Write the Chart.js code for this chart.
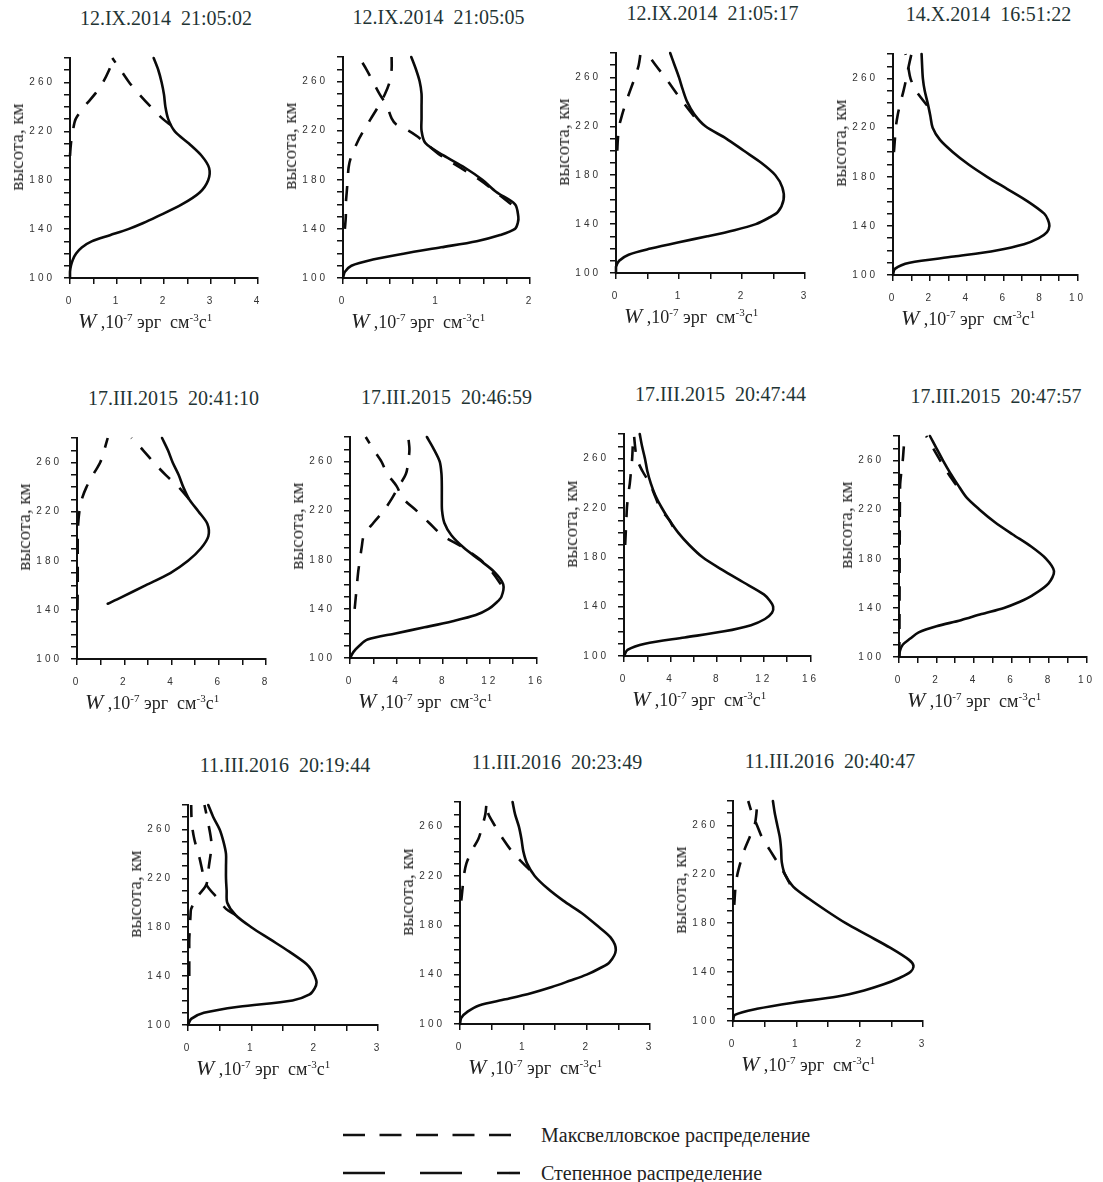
<!DOCTYPE html>
<html lang="ru">
<head>
<meta charset="utf-8">
<title>Профили W</title>
<script src="https://cdn.jsdelivr.net/npm/chart.js@4.4.1/dist/chart.umd.min.js"></script>
<style>
  html, body { margin: 0; padding: 0; background: #fff; }
  #page { position: relative; width: 1103px; height: 1182px; overflow: hidden;
          font-family: "Liberation Serif", "DejaVu Serif", serif; }
  #page canvas { position: absolute; }
  .ttl { position: absolute; font-size: 20px; white-space: pre; color: #1f3434;
         transform: translate(-50%, -50%); }
  .ytl { position: absolute; font-size: 19px; white-space: nowrap; color: #2a2a2a;
         transform: translate(-50%, -50%) rotate(-90deg); }
  .xtl { position: absolute; font-size: 18px; white-space: pre; color: #222;
         transform: translateY(-50%); }
  .xtl i { font-size: 22px; }
  .xtl sup { font-size: 11px; vertical-align: 0.6em; line-height: 0; }
  .legtxt { position: absolute; left: 541px; font-size: 20px; color: #222;
            white-space: nowrap; transform: translateY(-50%); }
</style>
</head>
<body>
<div id="page">
  <svg style="position:absolute;left:340px;top:1115px" width="180" height="70">
    <line x1="3" y1="20" x2="172" y2="20" stroke="#111" stroke-width="2.6" stroke-dasharray="22 14.5"/>
    <line x1="3" y1="58" x2="183" y2="58" stroke="#111" stroke-width="2.6" stroke-dasharray="42 35"/>
  </svg>
  <div class="legtxt" style="top:1135px">Максвелловское распределение</div>
  <div class="legtxt" style="top:1173px">Степенное распределение</div>
</div>
<script>
// panel captions
const TITLES = ['12.IX.2014  21:05:02', '12.IX.2014  21:05:05', '12.IX.2014  21:05:17', '14.X.2014  16:51:22',
  '17.III.2015  20:41:10', '17.III.2015  20:46:59', '17.III.2015  20:47:44', '17.III.2015  20:47:57',
  '11.III.2016  20:19:44', '11.III.2016  20:23:49', '11.III.2016  20:40:47'];

// x axis: max, minor tick step, labelled step
const X_MAX = [4, 2, 3, 10, 8, 16, 16, 10, 3, 3, 3];
const X_MINOR = [0.5, 0.25, 0.5, 1, 1, 2, 2, 1, 0.5, 0.5, 0.5];
const X_MAJOR = [1, 1, 1, 2, 2, 4, 4, 2, 1, 1, 1];

// y axis (height, km)
const Y_MIN = 100, Y_MAX = 280, Y_MINOR = 10, Y_MAJOR = 40;

// heights for the power-law curves
const HEIGHTS = [100, 105, 110, 115, 120, 125, 130, 135, 140, 145, 150, 160, 170, 180, 190, 200, 210, 220, 230, 240, 250, 260, 270, 280];

// W for power-law distribution (solid), one row per panel
const POWER_W = [
  [0, 0, 0.02, 0.06, 0.13, 0.25, 0.46, 0.85, 1.24, 1.56, 1.84, 2.37, 2.76, 2.94, 2.96, 2.80, 2.53, 2.23, 2.09, 2.03, 2.0, 1.95, 1.88, 1.78],
  [0, 0.02, 0.09, 0.32, 0.66, 1.05, 1.43, 1.68, 1.84, 1.87, 1.875, 1.84, 1.64, 1.49, 1.3, 1.07, 0.88, 0.84, 0.84, 0.84, 0.84, 0.82, 0.78, 0.73],
  [0, 0, 0.05, 0.2, 0.55, 0.98, 1.45, 1.88, 2.22, 2.42, 2.57, 2.66, 2.64, 2.53, 2.31, 2.03, 1.75, 1.42, 1.24, 1.13, 1.06, 1.0, 0.93, 0.86],
  [0, 0.1, 0.9, 3.3, 5.6, 7.1, 7.9, 8.35, 8.48, 8.4, 8.2, 7.3, 6.2, 5.1, 4.1, 3.25, 2.55, 2.15, 2.02, 1.88, 1.72, 1.62, 1.58, 1.55],
  [null, null, null, null, null, null, null, null, null, 1.3, 1.85, 2.9, 3.95, 4.7, 5.24, 5.56, 5.52, 5.15, 4.75, 4.5, 4.3, 4.05, 3.85, 3.6],
  [0, 0.3, 0.8, 1.5, 3.9, 6.4, 8.8, 10.8, 11.9, 12.55, 13.0, 13.15, 12.4, 11.1, 9.75, 8.7, 8.1, 7.9, 7.88, 7.88, 7.85, 7.7, 7.2, 6.6],
  [0, 0.3, 1.8, 5.2, 8.6, 10.9, 12.1, 12.7, 12.8, 12.5, 12.0, 10.2, 8.4, 6.75, 5.6, 4.65, 3.9, 3.25, 2.7, 2.3, 2.0, 1.8, 1.55, 1.35],
  [0, 0.05, 0.2, 0.6, 1.05, 2.0, 3.3, 4.4, 5.6, 6.45, 7.1, 7.98, 8.27, 7.85, 7.05, 6.05, 5.1, 4.3, 3.6, 3.15, 2.73, 2.35, 2.0, 1.65],
  [0, 0.05, 0.25, 0.8, 1.65, 1.92, 2.0, 2.03, 2.0, 1.95, 1.87, 1.6, 1.3, 1.0, 0.75, 0.62, 0.61, 0.6, 0.6, 0.6, 0.56, 0.5, 0.4, 0.32],
  [0, 0.02, 0.12, 0.3, 0.72, 1.12, 1.45, 1.73, 2.0, 2.2, 2.36, 2.46, 2.38, 2.16, 1.92, 1.63, 1.38, 1.18, 1.06, 1.0, 0.97, 0.93, 0.87, 0.83],
  [0, 0.03, 0.38, 0.95, 1.65, 2.07, 2.38, 2.62, 2.8, 2.85, 2.78, 2.48, 2.13, 1.78, 1.48, 1.2, 0.95, 0.82, 0.77, 0.76, 0.74, 0.7, 0.66, 0.63]
];

// Maxwell distribution, branch leaving the power-law curve (heights / W)
const MAXW_A_H = [
  [225, 230, 240, 250, 260, 270, 280],
  [160, 180, 200, 210, 215, 220, 225, 230, 240, 250, 260, 270, 280],
  [228, 240, 250, 260, 270, 280],
  [238, 250, 260, 270, 280],
  [230, 240, 250, 260, 270, 280],
  [160, 170, 180, 190, 200, 210, 220, 230, 240, 250, 260, 270, 280],
  [205, 210, 220, 230, 240, 250, 260, 270, 280],
  [240, 250, 260, 270, 280],
  [190, 195, 203, 215, 237, 252, 265, 280],
  [225, 230, 240, 250, 260, 270, 280],
  [212, 220, 230, 240, 250, 260, 270, 280]
];
const MAXW_A_W = [
  [2.15, 1.98, 1.72, 1.48, 1.26, 1.08, 0.9],
  [1.8, 1.46, 1.04, 0.88, 0.8, 0.7, 0.57, 0.52, 0.47, 0.39, 0.32, 0.25, 0.17],
  [1.24, 1.06, 0.92, 0.78, 0.63, 0.49],
  [1.85, 1.25, 0.95, 0.82, 0.68],
  [4.75, 4.3, 3.75, 3.25, 2.8, 2.3],
  [12.95, 12.2, 11.2, 9.7, 7.9, 6.8, 5.7, 4.55, 4.0, 3.2, 2.7, 2.0, 1.35],
  [4.2, 3.9, 3.1, 2.65, 2.2, 1.58, 1.1, 0.95, 0.85],
  [3.05, 2.6, 2.2, 1.82, 1.45],
  [0.75, 0.6, 0.48, 0.29, 0.18, 0.1, 0.06, 0.05],
  [1.1, 1.0, 0.82, 0.68, 0.56, 0.45, 0.4],
  [0.9, 0.82, 0.7, 0.58, 0.46, 0.38, 0.3, 0.24]
];

// Maxwell distribution, low branch rising from near zero (heights / W)
const MAXW_B_H = [
  [200, 210, 220, 230, 240, 250, 260, 270, 280],
  [140, 150, 160, 170, 180, 190, 197, 210, 220, 230, 240, 250, 260, 270, 280],
  [200, 210, 220, 230, 240, 250, 260, 270, 280],
  [200, 210, 220, 230, 240, 250, 260, 270, 280],
  [140, 160, 180, 200, 210, 220, 230, 240, 250, 260, 270, 280],
  [140, 150, 160, 170, 180, 190, 200, 210, 220, 230, 240, 250, 260, 270, 280],
  [190, 200, 210, 220, 230, 240, 250, 260, 270, 280],
  [100, 150, 200, 240, 250, 260, 270, 280],
  [140, 150, 160, 170, 180, 190, 195, 205, 215, 230, 248, 265, 280],
  [200, 210, 220, 230, 240, 250, 260, 270, 280],
  [195, 210, 220, 230, 240, 250, 260, 270, 280]
];
const MAXW_B_W = [
  [0, 0.02, 0.06, 0.12, 0.3, 0.52, 0.7, 0.83, 0.93],
  [0.02, 0.03, 0.03, 0.04, 0.05, 0.06, 0.08, 0.15, 0.22, 0.3, 0.38, 0.45, 0.5, 0.52, 0.52],
  [0.02, 0.03, 0.05, 0.1, 0.16, 0.23, 0.3, 0.36, 0.39],
  [0.05, 0.1, 0.15, 0.25, 0.4, 0.57, 0.72, 0.85, 1.0],
  [0.02, 0.03, 0.03, 0.03, 0.05, 0.1, 0.2, 0.4, 0.68, 0.98, 1.15, 1.3],
  [0.4, 0.5, 0.6, 0.7, 0.85, 1.0, 1.2, 2.0, 2.9, 3.6, 4.2, 4.8, 5.0, 5.1, 5.0],
  [0.1, 0.15, 0.2, 0.25, 0.35, 0.5, 0.6, 0.7, 0.75, 0.8],
  [0.02, 0.03, 0.04, 0.06, 0.12, 0.2, 0.25, 0.3],
  [0.02, 0.02, 0.02, 0.02, 0.03, 0.04, 0.05, 0.15, 0.29, 0.33, 0.37, 0.32, 0.26],
  [0.02, 0.04, 0.06, 0.1, 0.18, 0.29, 0.35, 0.4, 0.42],
  [0.02, 0.04, 0.07, 0.12, 0.18, 0.26, 0.34, 0.37, 0.38]
];

// plot area of each panel on the page: left, top, right, bottom
const PLOT_BOX = [
  [70, 53, 258, 278], [343, 52, 530, 278], [616, 48, 805, 273], [893, 49, 1080, 275],
  [77, 433, 266, 659], [350, 432, 539, 658], [624, 429, 813, 656], [899, 431, 1089, 657],
  [188, 800, 378, 1025], [460, 797, 650, 1024], [733, 796, 923, 1021]
];

const page = document.getElementById('page');
const PAD_L = 62, PAD_T = 10, PAD_R = 14, PAD_B = 40;

function onStep(v, step) {
  const k = v / step;
  return Math.abs(k - Math.round(k)) < 1e-6;
}

function toPoints(hs, ws) {
  return hs.map((h, k) => ({ x: ws[k], y: h })).filter(p => p.x !== null);
}

// spaced-out tick digits like the scanned original
const tickSpacing = {
  id: 'tickSpacing',
  beforeDraw(chart) { chart.ctx.letterSpacing = '3px'; }
};

function addText(cls, html, left, top) {
  const d = document.createElement('div');
  d.className = cls;
  d.innerHTML = html;
  d.style.left = left + 'px';
  d.style.top = top + 'px';
  page.appendChild(d);
}

function makePanel(i) {
  const [l, t, r, b] = PLOT_BOX[i];
  const canvas = document.createElement('canvas');
  canvas.width = PAD_L + (r - l) + PAD_R;
  canvas.height = PAD_T + (b - t) + PAD_B;
  canvas.style.left = (l - PAD_L) + 'px';
  canvas.style.top = (t - PAD_T) + 'px';
  page.appendChild(canvas);

  const line = { showLine: true, pointRadius: 0, borderColor: '#0a0a0a', borderWidth: 2.6,
                 tension: 0.3, fill: false, clip: 4 };

  new Chart(canvas, {
    type: 'scatter',
    data: {
      datasets: [
        Object.assign({ label: 'Степенное распределение', data: toPoints(HEIGHTS, POWER_W[i]),
                        borderJoinStyle: 'round', borderCapStyle: 'round' }, line),
        Object.assign({ label: 'Максвелловское распределение', data: toPoints(MAXW_A_H[i], MAXW_A_W[i]),
                        borderDash: [15, 13] }, line),
        Object.assign({ label: 'Максвелловское распределение', data: toPoints(MAXW_B_H[i], MAXW_B_W[i]),
                        borderDash: [15, 13] }, line)
      ]
    },
    options: {
      responsive: false,
      animation: false,
      events: [],
      layout: { padding: { left: 0, top: PAD_T, right: PAD_R, bottom: 0 } },
      plugins: { legend: { display: false }, tooltip: { enabled: false }, title: { display: false } },
      scales: {
        x: {
          type: 'linear', min: 0, max: X_MAX[i],
          afterFit: s => { s.height = PAD_B; },
          ticks: {
            stepSize: X_MINOR[i], autoSkip: false, maxRotation: 0, padding: 11, color: '#333',
            font: { family: 'Liberation Sans', size: 10 },
            callback: v => onStep(v, X_MAJOR[i]) ? String(v) : ''
          },
          grid: { drawOnChartArea: false, tickLength: 6, color: '#111', lineWidth: 1.5 },
          border: { color: '#111', width: 2 }
        },
        y: {
          type: 'linear', min: Y_MIN, max: Y_MAX,
          afterFit: s => { s.width = PAD_L; },
          ticks: {
            stepSize: Y_MINOR, autoSkip: false, padding: 9, color: '#333',
            font: { family: 'Liberation Sans', size: 10 },
            callback: v => onStep(v - Y_MIN, Y_MAJOR) ? String(v) : ''
          },
          grid: { drawOnChartArea: false, tickLength: 6, color: '#111', lineWidth: 1.5 },
          border: { color: '#111', width: 2 }
        }
      }
    },
    plugins: [tickSpacing]
  });

  addText('ttl', TITLES[i], (l + r) / 2 + 2, t - 35);
  addText('ytl', 'высота, км', l - 53, (t + b) / 2 - 19);
  addText('xtl', '<i>W</i> ,10<sup>-7</sup> эрг  см<sup>-3</sup>с<sup>1</sup>', l + 8, b + 43);
}

document.addEventListener('DOMContentLoaded', function() {
  for (let i = 0; i < TITLES.length; i++) makePanel(i);
});
</script>
</body>
</html>
